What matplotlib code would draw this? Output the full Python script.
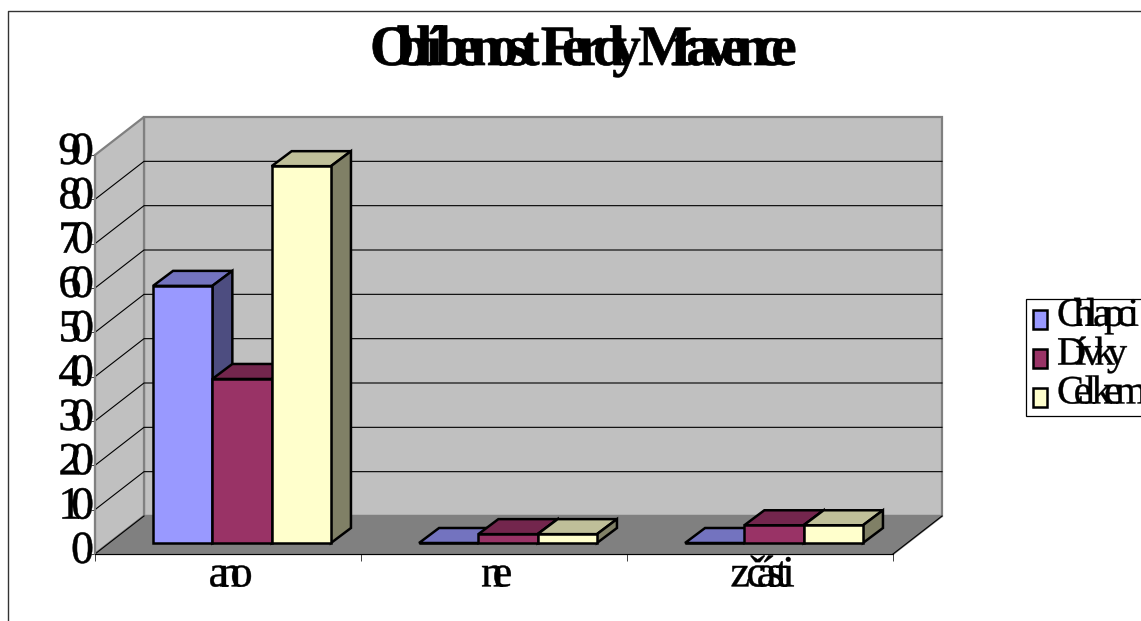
import numpy as np
import matplotlib
matplotlib.use('Agg')
import matplotlib.pyplot as plt
from matplotlib.patches import Patch, Polygon, Rectangle
from matplotlib.patheffects import AbstractPathEffect
from matplotlib.path import Path
from matplotlib.textpath import TextPath
from matplotlib.lines import Line2D

title = 'Oblíbenost Ferdy Mravence'
categories = ['ano', 'ne', 'z části']
series_names = ['Chlapci', 'Dívky', 'Celkem']
chlapci = [58, 0, 0]
divky = [37, 2, 4]
celkem = [85, 2, 4]
y_ticks = [0, 10, 20, 30, 40, 50, 60, 70, 80, 90]

front_cols = ['#9999FF', '#993366', '#FFFFCC']
top_cols = ['#7373BF', '#73264D', '#BFBF99']
side_cols = ['#4D4D80', '#4D1A33', '#808066']

plt.rcParams['font.family'] = ['Liberation Serif', 'DejaVu Serif']


# squeezes the glyphs together like the original, the text stays one string
# ratio scales the glyph origins, anchor 0/0.5/1 is left/center/right
class Tight(AbstractPathEffect):
    def __init__(self, text, prop, ratio, anchor=0.0, dx=0.0, dy=0.0, stroke=0.0):
        super().__init__()
        self.counts = [0 if c == ' ' else len(TextPath((0, 0), c, prop=prop).vertices) for c in text]
        self.ratio = ratio
        self.anchor = anchor
        self.dx = dx * 100  # text paths are 100 units per em
        self.dy = dy * 100
        self.stroke = stroke

    def draw_path(self, renderer, gc, tpath, affine, rgbFace=None):
        v = tpath.vertices.copy()
        if sum(self.counts) == len(v):
            start = v[:, 0].min()
            moved = 0
            i = 0
            for n in self.counts:
                if n:
                    x0 = v[i:i + n, 0].min()
                    moved = (1 - self.ratio) * (x0 - start)
                    v[i:i + n, 0] -= moved
                    i += n
            v[:, 0] += moved * self.anchor
        v[:, 0] += self.dx
        v[:, 1] += self.dy
        gc.set_linewidth(self.stroke)
        renderer.draw_path(gc, Path(v, tpath.codes), affine, rgbFace)


def squeeze(t, ratio, anchor=0.0, dx=0.0, dy=0.0, stroke=0.0):
    t.set_path_effects([Tight(t.get_text(), t.get_fontproperties(), ratio, anchor, dx, dy, stroke)])


W, H = 1141, 621
fig = plt.figure(figsize=(W / 100, H / 100), dpi=100)
ax = fig.add_axes([95 / W, 1 - 554 / H, 798 / W, 399 / H])
ax.set_xlim(0, 3)
ax.set_ylim(0, 90)
ax.patch.set_visible(False)

px = 3 / 798
py = 90 / 399
wx, wy = 49 * px, 38 * py   # depth of the walls
bx, by = 20 * px, 15 * py   # depth of the bars
ox, oy = 14 * px, 11 * py   # bars stand this far in from the front edge
bw = 59.3 * px

# walls and floor
wall = dict(closed=True, clip_on=False, edgecolor='#808080', linewidth=1.6, joinstyle='miter')
ax.add_patch(Polygon([(wx, wy), (3 + wx, wy), (3 + wx, 90 + wy), (wx, 90 + wy)],
                     facecolor='#C0C0C0', zorder=1, **wall))
ax.add_patch(Polygon([(0, 0), (wx, wy), (wx, 90 + wy), (0, 90)],
                     facecolor='#C0C0C0', zorder=1, **wall))
ax.add_patch(Polygon([(0, 0), (3, 0), (3 + wx, wy), (wx, wy)],
                     facecolor='#808080', zorder=1, **wall))

for v in y_ticks[1:-1]:
    ax.plot([0, wx, 3 + wx], [v, v + wy, v + wy], color='black', lw=0.8, zorder=2, clip_on=False)
ax.plot([0, wx], [0, wy], color='black', lw=0.8, zorder=2, clip_on=False)
ax.plot([3, 3 + wx], [0, wy], color='black', lw=0.8, zorder=2, clip_on=False)

# bars
pos = np.arange(len(categories)) + 0.5 + ox
z = 3
for j, vals in enumerate([chlapci, divky, celkem]):
    xs = pos + (j - 1) * bw
    ax.bar(xs, vals, bw, bottom=oy, color=front_cols[j], edgecolor='black', linewidth=1.8, zorder=z + 0.5)
    for x, v in zip(xs, vals):
        l, r, t = x - bw / 2, x + bw / 2, v + oy
        ax.add_patch(Polygon([(l, t), (r, t), (r + bx, t + by), (l + bx, t + by)], closed=True,
                             facecolor=top_cols[j], edgecolor='black', linewidth=1.8, zorder=z, clip_on=False))
        if v > 0:
            ax.add_patch(Polygon([(r, oy), (r + bx, oy + by), (r + bx, t + by), (r, t)], closed=True,
                                 facecolor=side_cols[j], edgecolor='black', linewidth=1.8, zorder=z, clip_on=False))
    z += 1

# axes
ax.spines['top'].set_visible(False)
ax.spines['right'].set_visible(False)
ax.spines['left'].set_color('#808080')
ax.spines['left'].set_linewidth(1.5)
ax.spines['left'].set_zorder(2)
ax.spines['bottom'].set_color('black')
ax.spines['bottom'].set_linewidth(0.8)
ax.spines['bottom'].set_zorder(2)

ax.set_yticks(y_ticks, [str(v) for v in y_ticks], fontsize=33)
ax.tick_params(axis='y', length=3, width=0.7, color='#404040', pad=0)
ax.set_xticks([0, 1, 2, 3], ['', '', '', ''])
ax.set_xticks([0.5, 1.5, 2.5], categories, minor=True, fontsize=32)
ax.tick_params(axis='x', which='major', length=5, width=0.7, color='#404040')
ax.tick_params(axis='x', which='minor', length=0, pad=1)

for t in ax.get_yticklabels():
    squeeze(t, 0.55, 1.0, 0.07, 0.16, 0.4)
for t in ax.xaxis.get_ticklabels(minor=True):
    squeeze(t, 0.52, 0.5, 0.06, 0.0, 0.3)

t = fig.text(370 / W, 1 - 65 / H, title, fontsize=41, fontweight='bold', ha='left', va='baseline')
squeeze(t, 0.61, 0.0, 0.0, 0.0, 0.5)

# legend, its right side runs off the picture like in the original
fig.add_artist(Rectangle((1026 / W, 1 - 416 / H), 130 / W, 117 / H, transform=fig.transFigure,
                         facecolor='white', edgecolor='black', linewidth=0.9, zorder=4))
handles = [Patch(facecolor=c, edgecolor='black', linewidth=1.8) for c in front_cols]
leg = fig.legend(handles, series_names, loc='upper left', bbox_to_anchor=(1026 / W, 1 - 299 / H),
                 fontsize=29, frameon=False, borderaxespad=0, borderpad=0.17, labelspacing=0.045,
                 handlelength=0.35, handleheight=0.35, handletextpad=0.25)
for t in leg.get_texts():
    squeeze(t, 0.62, 0.0, 0.0, 0.2, 0.3)

# outer chart border, only top and left are in the picture
fig.add_artist(Line2D([8 / W, 8 / W, 1], [0, 1 - 11 / H, 1 - 11 / H], color='#333333', lw=1))

fig.savefig('out.png', dpi=100)
